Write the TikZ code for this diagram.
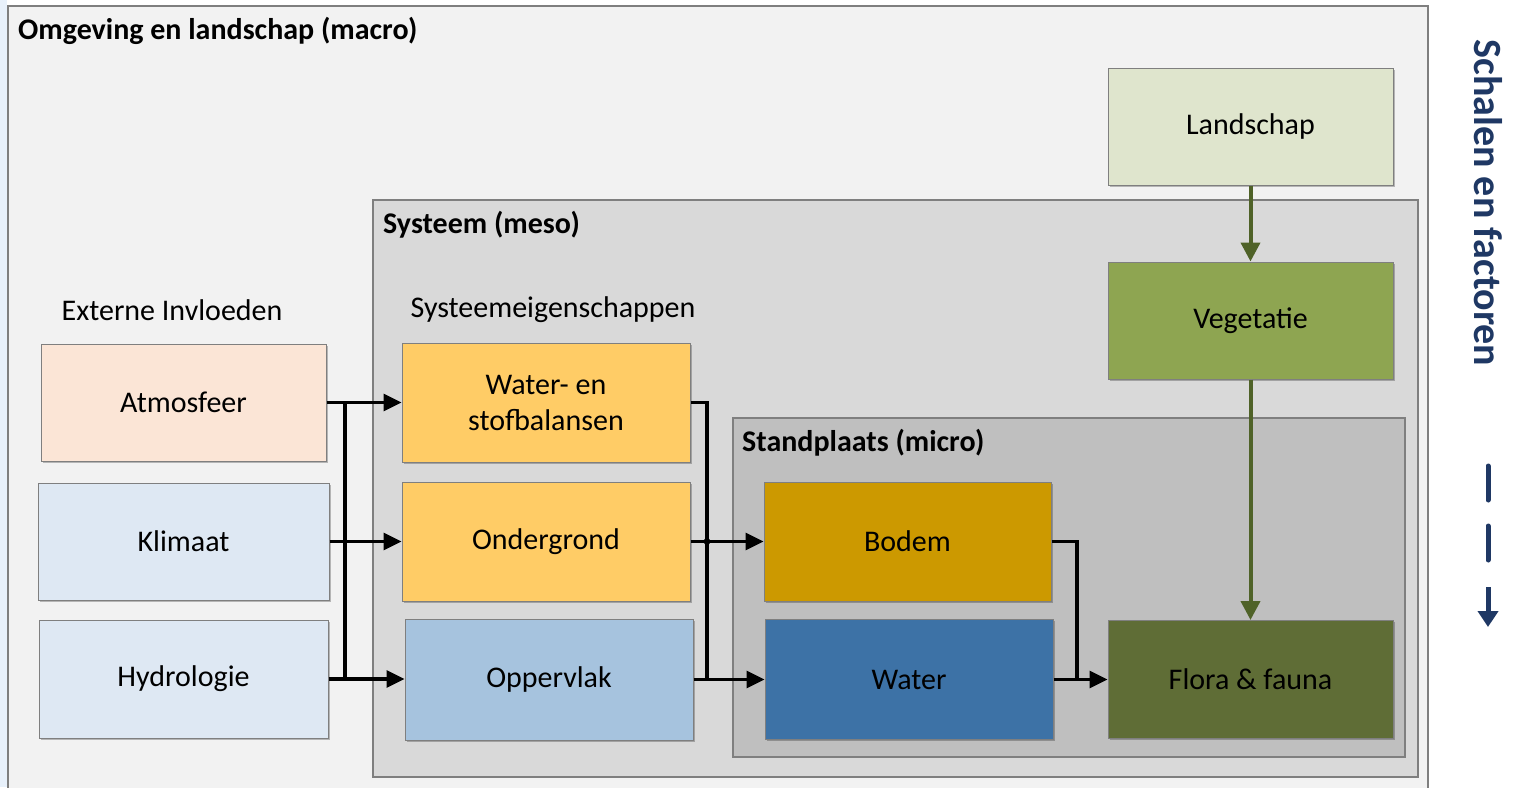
\documentclass[tikz,border=0pt]{standalone}
\usepackage{fontspec}
\setmainfont{Carlito}
\usetikzlibrary{arrows.meta,shadows}
\definecolor{macrofill}{HTML}{F2F2F2}
\definecolor{mesofill}{HTML}{D9D9D9}
\definecolor{microfill}{HTML}{BFBFBF}
\definecolor{frame}{HTML}{7F7F7F}
\definecolor{leftstrip}{HTML}{E8F1FB}
\definecolor{cLandschap}{HTML}{DFE5CD}
\definecolor{cVegetatie}{HTML}{8EA551}
\definecolor{cFlora}{HTML}{5F6D36}
\definecolor{cAtmos}{HTML}{FBE5D6}
\definecolor{cKlimaat}{HTML}{DEE8F3}
\definecolor{cGeel}{HTML}{FFCC66}
\definecolor{cOpper}{HTML}{A6C3DE}
\definecolor{cBodem}{HTML}{CC9900}
\definecolor{cWater}{HTML}{3D72A6}
\definecolor{greenarrow}{HTML}{4F6228}
\definecolor{scalenavy}{HTML}{1F3864}
\tikzset{
  box/.style={draw=frame, line width=1pt, minimum width=#1, inner sep=0pt,
    align=center, font=\fontsize{30}{36}\selectfont,
    drop shadow={shadow xshift=1.5pt, shadow yshift=-1.5pt, fill=black, opacity=0.25}},
  region/.style={draw=frame, line width=1.5pt},
  title/.style={font=\bfseries\fontsize{30}{36}\selectfont, anchor=west, inner sep=0pt},
  heading/.style={font=\fontsize{30}{36}\selectfont, inner sep=0pt},
  conn/.style={line width=3.2pt, -{Triangle[length=18pt,width=17pt]}},
  bus/.style={line width=3.2pt},
  greenconn/.style={line width=4pt, draw=greenarrow, -{Triangle[length=19pt,width=19pt]}},
}
\begin{document}
\begin{tikzpicture}[x=1pt,y=-1pt]
  % page
  \clip (0,0) rectangle (1515,787);
  \fill[white] (0,0) rectangle (1515,787);
  \fill[leftstrip] (0,0) rectangle (7,787);

  % nested scale regions
  \draw[region, fill=macrofill] (8,6) rectangle (1428,800);
  \draw[region, fill=mesofill] (373,200) rectangle (1418,777);
  \draw[region, fill=microfill] (733,418) rectangle (1405,757);

  \node[title] (tmacro) at (18,31) {Omgeving en landschap (macro)};
  \node[title] (tmeso) at (383,225) {Systeem (meso)};
  \node[title] (tmicro) at (742,443) {Standplaats (micro)};

  \node[heading] (hext) at (172,310) {Externe Invloeden};
  \node[heading] (hsys) at (553,310) {Systeemeigenschappen};

  % external influences
  \node[box=285pt, minimum height=117pt, fill=cAtmos] (atm) at (183.5,402.5) {Atmosfeer};
  \node[box=291pt, minimum height=117pt, fill=cKlimaat] (kli) at (183.5,541.5) {Klimaat};
  \node[box=289pt, minimum height=118pt, fill=cKlimaat] (hyd) at (183.5,679) {Hydrologie};

  % system properties
  \node[box=288pt, minimum height=119pt, fill=cGeel] (wsb) at (546,402.5) {Water- en\\stofbalansen};
  \node[box=288pt, minimum height=119pt, fill=cGeel] (ond) at (546,541.5) {Ondergrond};
  \node[box=288pt, minimum height=121pt, fill=cOpper] (opp) at (549,679.5) {Oppervlak};

  % site factors
  \node[box=287pt, minimum height=119pt, fill=cBodem] (bod) at (907.5,541.5) {Bodem};
  \node[box=288pt, minimum height=120pt, fill=cWater] (wat) at (909,679.5) {Water};

  % vegetation chain
  \node[box=285pt, minimum height=117pt, fill=cLandschap] (lan) at (1250.5,126.5) {Landschap};
  \node[box=285pt, minimum height=117pt, fill=cVegetatie] (veg) at (1250.5,320.5) {Vegetatie};
  \node[box=285pt, minimum height=118pt, fill=cFlora] (flo) at (1250.5,679.5) {Flora \& fauna};

  % left bus: every external influence feeds every system property
  \coordinate (busLa) at (345,402.5);
  \coordinate (busLb) at (345,679);
  \draw[conn] (atm.east) -- (wsb.west);
  \draw[conn] (kli.east) -- (ond.west);
  \draw[conn] (hyd.east) -- (opp.west |- hyd.east);
  \draw[bus] (busLa) -- (busLb);

  % middle bus: system properties feed soil and water
  \coordinate (busMa) at (707,402.5);
  \coordinate (busMb) at (707,679.5);
  \draw[bus] (wsb.east) -- (busMa) -- (busMb);
  \draw[conn] (ond.east) -- (bod.west);
  \draw[conn] (opp.east) -- (wat.west);
  \fill (707,541.5) circle (3.4pt);

  % soil and water feed flora & fauna
  \coordinate (busRa) at (1077,541.5);
  \coordinate (busRb) at (1077,679.5);
  \draw[bus] (bod.east) -- (busRa) -- (busRb);
  \draw[conn] (wat.east) -- (flo.west);

  % landscape -> vegetation -> flora & fauna
  \draw[greenconn] (lan.south) -- (veg.north);
  \draw[greenconn] (veg.south) -- (flo.north);

  % scale indicator
  \node[font=\bfseries\fontsize{40}{46}\selectfont, text=scalenavy, rotate=-90, inner sep=0pt]
    (scale) at (1488,203) {Schalen en factoren};
  \coordinate (sb) at (1488,627);
  \draw[scalenavy, line width=5pt, line cap=round] (1488,466) -- (1488,500);
  \draw[scalenavy, line width=5pt, line cap=round] (1488,526) -- (1488,560);
  \draw[scalenavy, line width=5pt, -{Triangle[length=16pt,width=20pt]}] (1488,587) -- (sb);
\end{tikzpicture}
\end{document}
